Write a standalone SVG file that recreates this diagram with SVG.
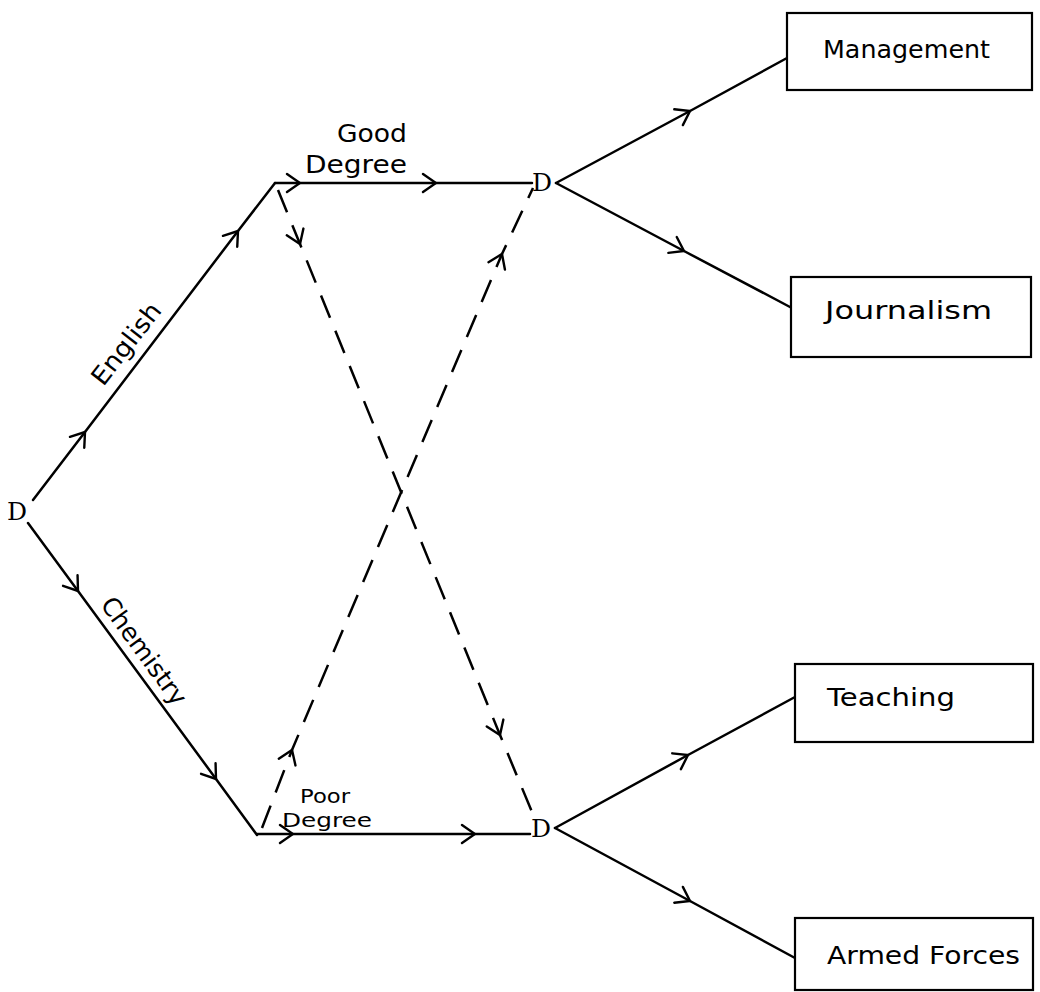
<svg xmlns="http://www.w3.org/2000/svg" width="1040" height="992" viewBox="0 0 1040 992">
<style>
.ln{fill:none;stroke:#000;stroke-width:2.5;stroke-linecap:round}
.ds{fill:none;stroke:#000;stroke-width:2.5;stroke-dasharray:24 14}
.bx{fill:#fff;stroke:#000;stroke-width:2.2}
.t{font-family:"DejaVu Sans","Liberation Sans",sans-serif;font-size:25px;fill:#000}
.s{font-size:20px}
.d{font-family:"DejaVu Serif","Liberation Serif",serif;font-size:25px;fill:#000}
</style>
<defs>
<marker id="ch" viewBox="-15 -11 17 22" markerWidth="17" markerHeight="22" refX="0" refY="0" orient="auto" markerUnits="userSpaceOnUse">
<path d="M-13,-9 L0,0 L-13,9" fill="none" stroke="#000" stroke-width="2.4" stroke-linecap="round"/>
</marker>
</defs>
<rect width="1040" height="992" fill="#fff"/>
<g id="connectors">
<polyline class="ln" points="33,500 85,432 238,231 275,183" marker-mid="url(#ch)"/>
<polyline class="ln" points="28,523 78,591 216,779 257,835" marker-mid="url(#ch)"/>
<polyline class="ln" points="275,183 300,183 436,183 532,183" marker-mid="url(#ch)"/>
<polyline class="ln" points="257,834 293,834 475,834 530,834" marker-mid="url(#ch)"/>
<polyline class="ln" points="556,183 690,111 787,58" marker-mid="url(#ch)"/>
<polyline class="ln" points="556,183 684,251 790,307" marker-mid="url(#ch)"/>
<polyline class="ln" points="555,828 688,755 795,697" marker-mid="url(#ch)"/>
<polyline class="ln" points="555,828 690,901 795,958" marker-mid="url(#ch)"/>
<polyline class="ds" points="278,190 300,244 500,735 532,812" marker-mid="url(#ch)"/>
<polyline class="ds" points="262,828 292,750 502,254 533,188" marker-mid="url(#ch)"/>
</g>
<g id="root"><text class="d" x="7" y="520">D</text></g>
<g id="d-good"><text class="d" x="532" y="191">D</text></g>
<g id="d-poor"><text class="d" x="531" y="837">D</text></g>
<g id="lbl-english"><text class="t" transform="translate(133,349) rotate(-52)" text-anchor="middle" textLength="97" lengthAdjust="spacingAndGlyphs">English</text></g>
<g id="lbl-chemistry"><text class="t" transform="translate(137,656) rotate(54)" text-anchor="middle" textLength="127" lengthAdjust="spacingAndGlyphs">Chemistry</text></g>
<g id="lbl-good"><text class="t" x="337" y="142" textLength="70" lengthAdjust="spacingAndGlyphs">Good</text><text class="t" x="305" y="173" textLength="102" lengthAdjust="spacingAndGlyphs">Degree</text></g>
<g id="lbl-poor"><text class="t s" x="300" y="803" textLength="50" lengthAdjust="spacingAndGlyphs">Poor</text><text class="t s" x="282" y="827" textLength="90" lengthAdjust="spacingAndGlyphs">Degree</text></g>
<g id="management"><rect class="bx" x="787" y="13" width="245" height="77"/><text class="t" x="823" y="58" textLength="167" lengthAdjust="spacingAndGlyphs">Management</text></g>
<g id="journalism"><rect class="bx" x="791" y="277" width="240" height="80"/><text class="t" x="825" y="319" textLength="167" lengthAdjust="spacingAndGlyphs">Journalism</text></g>
<g id="teaching"><rect class="bx" x="795" y="664" width="238" height="78"/><text class="t" x="827" y="706" textLength="128" lengthAdjust="spacingAndGlyphs">Teaching</text></g>
<g id="armed"><rect class="bx" x="795" y="918" width="238" height="72"/><text class="t" x="827" y="964" textLength="193" lengthAdjust="spacingAndGlyphs">Armed Forces</text></g>
</svg>
